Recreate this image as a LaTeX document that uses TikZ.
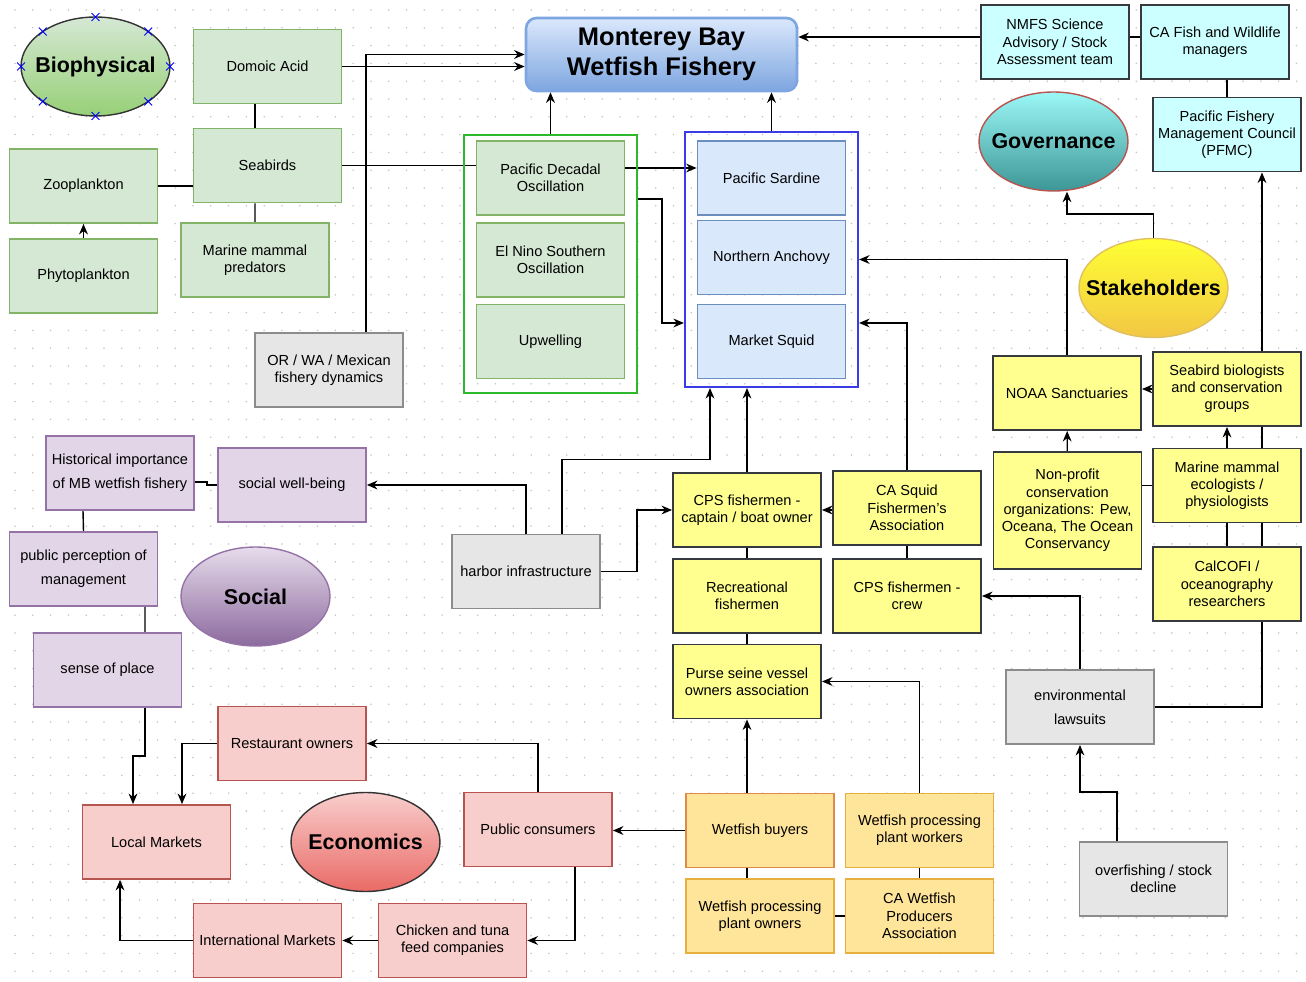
\documentclass[tikz,border=0pt]{standalone}
\usepackage{fontspec}
\setmainfont{Liberation Sans}
\usepackage{xcolor}
\definecolor{biofill}{HTML}{D5E8D4}
\definecolor{bioline}{HTML}{82B366}
\definecolor{biotop}{HTML}{D5E8D4}
\definecolor{biobot}{HTML}{97D077}
\definecolor{fishfill}{HTML}{DAE8FC}
\definecolor{fishline}{HTML}{6C8EBF}
\definecolor{titletop}{HTML}{DAE8FC}
\definecolor{titlebot}{HTML}{7EA6E0}
\definecolor{groupgreen}{HTML}{2EB82E}
\definecolor{groupblue}{HTML}{3B3BE6}
\definecolor{govfill}{HTML}{CCFFFF}
\definecolor{govline}{HTML}{36393D}
\definecolor{govtop}{HTML}{9CF7F7}
\definecolor{govbot}{HTML}{3D9696}
\definecolor{govring}{HTML}{B85450}
\definecolor{stakefill}{HTML}{FFFF8F}
\definecolor{staketop}{HTML}{FFFF33}
\definecolor{stakebot}{HTML}{F2C744}
\definecolor{stakering}{HTML}{E0C060}
\definecolor{extfill}{HTML}{E6E6E6}
\definecolor{extline}{HTML}{8C8C8C}
\definecolor{socfill}{HTML}{E1D5E7}
\definecolor{socline}{HTML}{9673A6}
\definecolor{soctop}{HTML}{E6DCEB}
\definecolor{socbot}{HTML}{8C6A9E}
\definecolor{ecofill}{HTML}{F8CECC}
\definecolor{ecoline}{HTML}{B85450}
\definecolor{ecotop}{HTML}{F8CECC}
\definecolor{ecobot}{HTML}{EA6B66}
\definecolor{procfill}{HTML}{FFE599}
\definecolor{procline}{HTML}{E6B040}
\definecolor{buyerline}{HTML}{E08A4A}
\definecolor{dotgray}{HTML}{C4C4C4}
\usetikzlibrary{arrows.meta,shapes.geometric,shapes.misc,backgrounds}

\newcommand{\boxfont}{\fontsize{8.3}{9.8}\selectfont}
\newcommand{\catfont}{\fontsize{12.2}{14}\selectfont\bfseries}
\newcommand{\titlefont}{\fontsize{14.5}{17}\selectfont\bfseries}

\tikzset{
  box/.style={rectangle, line width=1pt, minimum width=2.96cm, minimum height=1.48cm, inner sep=1pt, align=center, font=\boxfont},
  bio/.style={box, draw=bioline, fill=biofill},
  fish/.style={box, draw=fishline, fill=fishfill},
  gov/.style={box, draw=govline, fill=govfill, line width=1.1pt},
  stake/.style={box, draw=govline, fill=stakefill, line width=1.1pt},
  ext/.style={box, draw=extline, fill=extfill, line width=1.1pt},
  soc/.style={box, draw=socline, fill=socfill},
  eco/.style={box, draw=ecoline, fill=ecofill},
  proc/.style={box, draw=procline, fill=procfill},
  group/.style={rectangle, line width=1.2pt, minimum width=3.46cm},
  title/.style={rectangle, rounded corners=6pt, draw=titlebot, line width=1.5pt, top color=titletop, bottom color=titlebot, minimum width=5.42cm, minimum height=1.46cm, align=center, font=\titlefont},
  cat/.style={ellipse, minimum width=2.98cm, minimum height=1.98cm, inner sep=0pt, line width=0.8pt, font=\catfont},
  xmark/.style={cross out, draw=blue, line width=0.5pt, minimum size=4pt, inner sep=0pt},
  line/.style={draw, line width=0.8pt, -{Stealth[length=6pt,width=5pt]}},
  link/.style={draw, line width=0.8pt},
  griddot/.style={draw=dotgray, line width=1pt, line cap=round, dash pattern=on 0pt off 10.13pt},
}

\begin{document}
\begin{tikzpicture}[x=0.02cm, y=-0.02cm]
  \useasboundingbox (0,0) rectangle (1306,982);
  % canvas grid
  \begin{scope}[on background layer]
    \foreach \j in {0,...,54}
      \draw[griddot] (15,10+17.8*\j) -- (1306,10+17.8*\j);
  \end{scope}

  %biophysical
  \node[cat, draw=black!80, top color=biotop, bottom color=biobot] (biophys) at (95.5,66.5) {\makebox[0pt]{Biophysical}};
  \foreach \a in {0,45,...,315}
    \node[xmark] (bx\a) at ([shift={(\a:1.49cm and 0.99cm)}]biophys.center) {};
  \node[bio] (domoic) at (267.5,66.5) {Domoic Acid};
  \node[bio] (seabirds) at (267.5,165.5) {Seabirds};
  \node[bio] (zoo) at (83.5,186) {Zooplankton};
  \node[bio] (phyto) at (83.5,276) {Phytoplankton};
  \node[bio] (mmpred) at (255,260) {Marine mammal\\predators};
  \node[ext] (orwa) at (329,370) {OR / WA / Mexican\\fishery dynamics};

  %fishery
  \node[title] (fishery) at (661.5,54.5) {Monterey Bay\\Wetfish Fishery};

  %drivers
  \node[group, draw=groupgreen, minimum height=5.16cm] (drivers) at (550.5,264) {};
  \node[bio] (pdo) at (550.5,178) {Pacific Decadal\\Oscillation};
  \node[bio] (enso) at (550.5,260) {El Nino Southern\\Oscillation};
  \node[bio] (upwell) at (550.5,341.5) {Upwelling};

  %species
  \node[group, draw=groupblue, minimum height=5.1cm] (species) at (771.5,259.5) {};
  \node[fish] (sardine) at (771.5,178) {Pacific Sardine};
  \node[fish] (anchovy) at (771.5,257.5) {Northern Anchovy};
  \node[fish] (squid) at (771.5,341.5) {Market Squid};

  %governance
  \node[gov] (nmfs) at (1055,42) {NMFS Science\\Advisory / Stock\\Assessment team};
  \node[gov] (cafw) at (1215,42) {CA Fish and Wildlife\\managers};
  \node[gov] (pfmc) at (1227,134.5) {Pacific Fishery\\Management Council\\(PFMC)};
  \node[cat, draw=govring, top color=govtop, bottom color=govbot] (governance) at (1053.5,141.5) {\makebox[0pt]{Governance}};
  \node[cat, draw=stakering, top color=staketop, bottom color=stakebot] (stakeholders) at (1153.5,288) {\makebox[0pt]{Stakeholders}};

  %stakeholders
  \node[stake] (noaa) at (1067,393) {NOAA Sanctuaries};
  \node[stake] (seabio) at (1227,389) {Seabird biologists\\and conservation\\groups};
  \node[stake, minimum height=2.34cm] (nonprofit) at (1067.5,510.5) {Non-profit\\conservation\\organizations: Pew,\\Oceana, The Ocean\\Conservancy};
  \node[stake] (mmeco) at (1227,485.5) {Marine mammal\\ecologists /\\physiologists};
  \node[stake] (calcofi) at (1227,584) {CalCOFI /\\oceanography\\researchers};
  \node[ext] (lawsuits) at (1080,707) {environmental\\[4pt]lawsuits};
  \node[ext] (overfish) at (1153.5,879) {overfishing / stock\\decline};

  %fishermen
  \node[stake] (captain) at (747,510) {CPS fishermen -\\captain / boat owner};
  \node[stake] (squidassoc) at (907,508) {CA Squid\\Fishermen's\\Association};
  \node[stake] (recfish) at (747,596) {Recreational\\fishermen};
  \node[stake] (crew) at (907,596) {CPS fishermen -\\crew};
  \node[stake] (purse) at (747,681.5) {Purse seine vessel\\owners association};
  \node[ext] (harbor) at (526,571.5) {harbor infrastructure};

  %processors
  \node[proc, draw=buyerline] (buyers) at (760,830.5) {Wetfish buyers};
  \node[proc] (workers) at (919.5,830.5) {Wetfish processing\\plant workers};
  \node[proc] (owners) at (760,916) {Wetfish processing\\plant owners};
  \node[proc] (cawpa) at (919.5,916) {CA Wetfish\\Producers\\Association};

  %social
  \node[soc] (history) at (120,473) {Historical importance\\[4pt]of MB wetfish fishery};
  \node[soc] (wellbeing) at (292,485) {social well-being};
  \node[soc] (perception) at (83.5,569) {public perception of\\[4pt]management};
  \node[soc] (place) at (107.5,670) {sense of place};
  \node[cat, draw=socline, top color=soctop, bottom color=socbot] (social) at (255.5,596.5) {\makebox[0pt]{Social}};

  %economics
  \node[eco] (restaurant) at (292,743.5) {Restaurant owners};
  \node[eco] (local) at (156.5,842) {Local Markets};
  \node[eco] (public) at (538,829.5) {Public consumers};
  \node[eco] (chicken) at (452.5,940.5) {Chicken and tuna\\feed companies};
  \node[eco] (intl) at (267.5,940.5) {International Markets};
  \node[cat, draw=black!80, top color=ecotop, bottom color=ecobot] (economics) at (365.5,842) {\makebox[0pt]{Economics}};

  \begin{scope}[on background layer]
    %biophysical links
    \draw[line] (domoic.east) -- (domoic.east -| fishery.west);
    \draw[line] ([xshift=0.74cm]orwa.north) |- (fishery.west);
    \draw[link] (seabirds.east) -- (seabirds.east -| pdo.west);
    \draw[link] ([xshift=-0.25cm]domoic.south) -- ([xshift=-0.25cm]seabirds.north);
    \draw[link] ([xshift=-0.25cm]seabirds.south) -- (mmpred.north);
    \draw[link] (zoo.east) -- (zoo.east -| seabirds.west);
    \draw[line] (phyto) -- (zoo);
    %drivers and species
    \draw[line] (drivers.north) -- (drivers.north |- fishery.south);
    \draw[line] (species.north) -- (species.north |- fishery.south);
    \draw[line] ([yshift=0.2cm]pdo.east) -- ([yshift=0.2cm]pdo.east -| sardine.west);
    \draw[line] ([yshift=1.3cm]drivers.east) -- ++(24,0) |- ([yshift=-1.27cm]species.west);
    %governance
    \draw[line] ([yshift=0.1cm]nmfs.west) -- ([yshift=0.1cm]nmfs.west -| fishery.east);
    \draw[link] ([yshift=0.1cm]nmfs.east) -- ([yshift=0.1cm]cafw.west);
    \draw[link] (pfmc.north |- cafw.south) -- (pfmc.north);
    \draw[line] (stakeholders.north) -- ++(0,-24) -| (noaa.north |- governance.south);
    %stakeholders
    \draw[line] (noaa.north) |- (species.east);
    \draw[line] (seabio.west) -- (seabio.west -| noaa.east);
    \draw[line] (nonprofit) -- (noaa);
    \draw[line] (mmeco) -- (seabio);
    \draw[link] (mmeco.west -| nonprofit.east) -- (mmeco.west);
    \draw[link] (mmeco) -- (calcofi);
    \draw[line] (lawsuits.east) -| ([xshift=0.7cm]pfmc.south);
    \draw[line] (lawsuits.north) |- (crew.east);
    \draw[line] ([xshift=-0.73cm]overfish.north) -- ++(0,-49) -| (lawsuits.south);
    %fishermen
    \draw[line] (squidassoc.north) |- ([yshift=-1.27cm]species.east);
    \draw[line] (captain.north) -- (captain.north |- species.south);
    \draw[line] ([xshift=0.72cm]harbor.north) -- ++(0,-74) -| ([xshift=-1.23cm]species.south);
    \draw[line] (harbor.north) |- (wellbeing.east);
    \draw[line] (harbor.east) -- ++(36,0) |- (captain.west);
    \draw[line] (captain.east -| squidassoc.west) -- (captain.east);
    \draw[link] (captain) -- (recfish);
    \draw[link] (recfish) -- (purse);
    \draw[link] (squidassoc) -- (crew);
    %processors
    \draw[line] (buyers.north -| purse.south) -- (purse.south);
    \draw[line] (workers.north) |- (purse.east);
    \draw[line] (buyers.west) -- (buyers.west -| public.east);
    \draw[link] (buyers.south -| purse.south) -- (owners.north -| purse.south);
    \draw[link] (workers) -- (cawpa);
    \draw[link] (owners) -- (cawpa);
    %economics
    \draw[line] (public.north) |- (restaurant.east);
    \draw[line] ([xshift=0.74cm]public.south) |- (chicken.east);
    \draw[line] (chicken) -- (intl);
    \draw[line] (intl.west) -| ([xshift=-0.73cm]local.south);
    \draw[line] (restaurant.west) -| ([xshift=0.51cm]local.north);
    \draw[line] ([xshift=0.75cm]place.south) -- ++(0,48) -| ([xshift=-0.47cm]local.north);
    %social
    \draw[link] ([yshift=-0.18cm]history.east) -- ++(12,0) |- (wellbeing.west);
    \draw[link] ([xshift=-0.74cm]history.south) -- (perception.north);
    \draw[link] ([xshift=1.23cm]perception.south) -- ([xshift=0.75cm]place.north);
  \end{scope}
\end{tikzpicture}
\end{document}
